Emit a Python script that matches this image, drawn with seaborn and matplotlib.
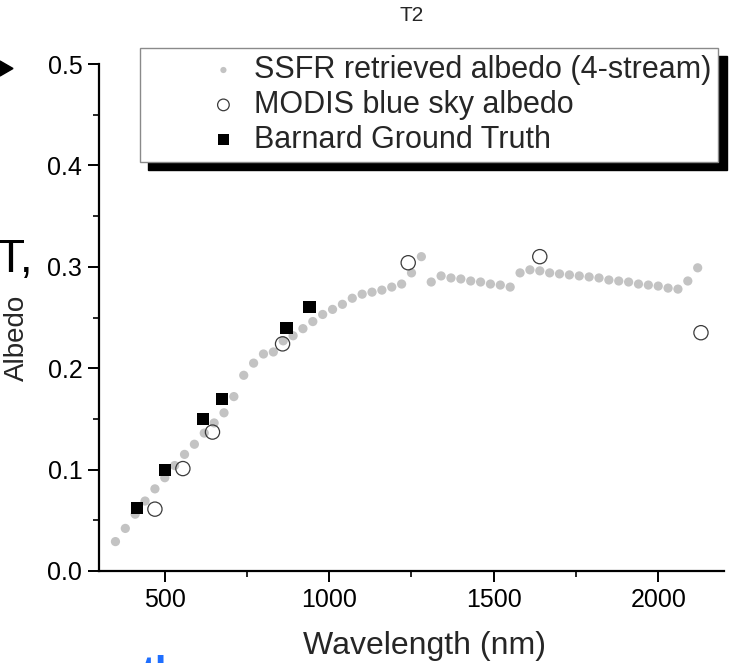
import numpy as np
import pandas as pd
import matplotlib
matplotlib.use("Agg")
import matplotlib.pyplot as plt
import seaborn as sns
from matplotlib.patches import Polygon

# ---------------- data ----------------
ssfr_wl = [350, 380, 410, 440, 470, 500, 530, 560, 590, 620,
           650, 680, 710, 740, 770, 800, 830, 860, 890, 920,
           950, 980, 1010, 1040, 1070, 1100, 1130, 1160, 1190, 1220,
           1250, 1280, 1310, 1340, 1370, 1400, 1430, 1460, 1490, 1520,
           1550, 1580, 1610, 1640, 1670, 1700, 1730, 1760, 1790, 1820,
           1850, 1880, 1910, 1940, 1970, 2000, 2030, 2060, 2090, 2120]
ssfr_alb = [0.029, 0.042, 0.056, 0.069, 0.081, 0.092, 0.104, 0.115, 0.125, 0.136,
            0.146, 0.156, 0.172, 0.193, 0.205, 0.214, 0.216, 0.227, 0.232, 0.239,
            0.246, 0.253, 0.258, 0.263, 0.269, 0.273, 0.275, 0.277, 0.280, 0.283,
            0.294, 0.310, 0.285, 0.291, 0.289, 0.288, 0.286, 0.285, 0.283, 0.282,
            0.280, 0.294, 0.297, 0.296, 0.294, 0.293, 0.292, 0.291, 0.290, 0.289,
            0.287, 0.286, 0.285, 0.283, 0.282, 0.281, 0.279, 0.278, 0.286, 0.299]

modis_wl = [470, 555, 645, 858, 1240, 1640, 2130]
modis_alb = [0.061, 0.101, 0.137, 0.224, 0.304, 0.310, 0.235]

barnard_wl = [415, 500, 615, 673, 870, 940]
barnard_alb = [0.062, 0.100, 0.150, 0.170, 0.240, 0.260]

x_ticks = [500, 1000, 1500, 2000]
y_ticks = [0.0, 0.1, 0.2, 0.3, 0.4, 0.5]

labels = ["SSFR retrieved albedo (4-stream)", "MODIS blue sky albedo", "Barnard Ground Truth"]

# ---------------- style ----------------
sns.set_style("ticks")
plt.rcParams["font.family"] = ["Liberation Sans", "DejaVu Sans"]

W, H = 731, 663
fig = plt.figure(figsize=(W / 100, H / 100), dpi=100)
ax = fig.add_axes([99 / W, (H - 571) / H, (724 - 99) / W, (571 - 64) / H])

df_s = pd.DataFrame({"wl": ssfr_wl, "alb": ssfr_alb})
df_m = pd.DataFrame({"wl": modis_wl, "alb": modis_alb})
df_b = pd.DataFrame({"wl": barnard_wl, "alb": barnard_alb})

sns.scatterplot(data=df_s, x="wl", y="alb", ax=ax, color="#c3c3c3", s=44,
                edgecolor="none", marker="o", label=labels[0], zorder=2)
sns.scatterplot(data=df_m, x="wl", y="alb", ax=ax, facecolor="none", s=105,
                edgecolor="#3a3a3a", linewidth=0.9, marker="o", label=labels[1], zorder=3)
sns.scatterplot(data=df_b, x="wl", y="alb", ax=ax, color="black", s=76,
                edgecolor="none", marker="s", label=labels[2], zorder=4)

ax.set_xlim(300, 2200)
ax.set_ylim(0, 0.5)
ax.set_xticks(x_ticks)
ax.set_yticks(y_ticks)
ax.set_yticklabels([f"{v:.1f}" for v in y_ticks])
ax.xaxis.set_minor_locator(matplotlib.ticker.MultipleLocator(250))
ax.yaxis.set_minor_locator(matplotlib.ticker.MultipleLocator(0.05))
ax.tick_params(which="major", direction="out", length=8, width=1.4, labelsize=18,
               colors="black", pad=4)
ax.tick_params(which="minor", direction="out", length=4, width=1.4)
for side in ["top", "right"]:
    ax.spines[side].set_visible(False)
for side in ["left", "bottom"]:
    ax.spines[side].set_linewidth(1.6)
    ax.spines[side].set_color("black")

ax.set_xlabel("Wavelength (nm)", fontsize=23)
ax.set_ylabel("Albedo", fontsize=20)
ax.xaxis.set_label_coords(0.521, -0.118)
ax.yaxis.set_label_coords(-0.110, 0.46)
ax.set_title("T2", fontsize=15, pad=31)

leg = ax.legend(loc="upper left", bbox_to_anchor=((140 - 99) / 625, (571 - 48) / 507),
                borderaxespad=0, fontsize=22, frameon=True, fancybox=False,
                shadow={"color": "black", "alpha": 1.0, "ox": 6, "oy": -6},
                borderpad=0.23, handlelength=5.0, handletextpad=-1.5,
                labelspacing=0.16, markerscale=1.0)
leg.get_frame().set_edgecolor("#8a8a8a")
leg.get_frame().set_linewidth(1.0)
leg.get_frame().set_facecolor("white")
hs = leg.legend_handles
hs[0].set_sizes([20])
hs[1].set_sizes([70])
hs[2].set_sizes([60])

# stray slide fragments visible in the crop
fig.text(-3 / W, (H - 272) / H, "T,", fontsize=33, ha="left", va="baseline", color="black")
fig.add_artist(Polygon([[0 / W, (H - 61) / H], [13 / W, (H - 68.5) / H], [0 / W, (H - 76) / H]],
                       closed=True, transform=fig.transFigure, color="black"))
fig.text(141 / W, (H - 655) / H, "th", fontsize=30, weight="bold", color="#1f6fff",
         ha="left", va="top")

fig.savefig("out.png", dpi=100)
